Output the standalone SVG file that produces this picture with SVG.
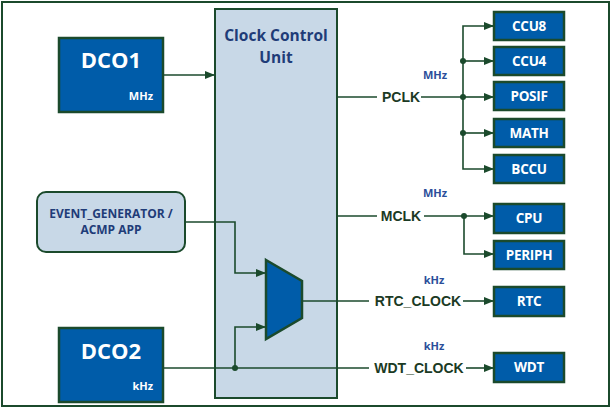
<svg xmlns="http://www.w3.org/2000/svg" width="613" height="409" viewBox="0 0 613 409">
<defs>
<marker id="ah" markerWidth="10" markerHeight="8" refX="10" refY="4" orient="auto" markerUnits="userSpaceOnUse">
<path d="M0,0 L10,4 L0,8 Z" fill="#1b4a2c"/>
</marker>
<style>
.blk{fill:#005ca9;stroke:#1b4a2c;stroke-width:2.5}
.lt{fill:#c8d8e7;stroke:#1b4a2c;stroke-width:2}
.ln{fill:none;stroke:#1b4a2c;stroke-width:1.6}
.dot{fill:#1b4a2c}
.wt{font-family:"Open Sans","Noto Sans",sans-serif;font-weight:bold;fill:#ffffff;text-anchor:middle}
.big{font-size:22px}
.sm{font-size:11px;font-weight:bold;font-family:"Open Sans","Noto Sans",sans-serif;fill:#ffffff;text-anchor:end}
.bx{font-size:13.5px;letter-spacing:-0.3px}
.unit{font-family:"Open Sans","Noto Sans",sans-serif;font-weight:bold;font-size:11px;fill:#2b4f9a;text-anchor:middle}
.sig{font-family:"Liberation Sans",Arial,sans-serif;font-weight:bold;font-size:14px;fill:#1b3a24;text-anchor:middle}
.ccu{font-family:"Open Sans","Noto Sans",sans-serif;font-weight:bold;font-size:15.5px;fill:#1f3c78;text-anchor:middle}
.ev{font-family:"Open Sans","Noto Sans",sans-serif;font-weight:bold;font-size:12px;fill:#1f3c78;text-anchor:middle}
</style>
</defs>
<rect x="2" y="2" width="607" height="404" fill="#ffffff" stroke="#1b4a2c" stroke-width="2"/>

<g id="ccu">
<rect class="lt" x="215" y="9" width="122" height="389"/>
<text class="ccu" x="276" y="41">Clock Control</text>
<text class="ccu" x="276" y="63">Unit</text>
</g>

<g id="dco1">
<rect class="blk" x="59" y="38" width="104" height="74"/>
<text class="wt big" x="111" y="68">DCO1</text>
<text class="sm" x="153" y="100">MHz</text>
</g>

<g id="dco2">
<rect class="blk" x="59" y="328" width="104" height="74"/>
<text class="wt big" x="111" y="359">DCO2</text>
<text class="sm" x="153" y="390">kHz</text>
</g>

<g id="event">
<rect class="lt" x="37" y="192" width="148" height="60" rx="9"/>
<text class="ev" x="111" y="218">EVENT_GENERATOR /</text>
<text class="ev" x="111" y="234">ACMP APP</text>
</g>

<g id="mux">
<polygon points="266,260 302,281 302,318 266,339" fill="#005ca9" stroke="#1b4a2c" stroke-width="2.5"/>
</g>

<g id="ccu8"><rect class="blk" x="494" y="12" width="70" height="28"/><text class="wt bx" x="529" y="31">CCU8</text></g>
<g id="ccu4"><rect class="blk" x="494" y="47" width="70" height="28"/><text class="wt bx" x="529" y="66">CCU4</text></g>
<g id="posif"><rect class="blk" x="494" y="82" width="70" height="28"/><text class="wt bx" x="529" y="101">POSIF</text></g>
<g id="math"><rect class="blk" x="494" y="119" width="70" height="28"/><text class="wt bx" x="529" y="138">MATH</text></g>
<g id="bccu"><rect class="blk" x="494" y="155" width="70" height="28"/><text class="wt bx" x="529" y="174">BCCU</text></g>
<g id="cpu"><rect class="blk" x="494" y="204" width="70" height="29"/><text class="wt bx" x="529" y="223">CPU</text></g>
<g id="periph"><rect class="blk" x="494" y="241" width="70" height="28"/><text class="wt bx" x="529" y="260">PERIPH</text></g>
<g id="rtc"><rect class="blk" x="494" y="287" width="70" height="29"/><text class="wt bx" x="529" y="306">RTC</text></g>
<g id="wdt"><rect class="blk" x="494" y="353" width="70" height="29"/><text class="wt bx" x="529" y="372">WDT</text></g>

<g id="connectors">
<line class="ln" x1="163" y1="75" x2="215" y2="75" marker-end="url(#ah)"/>
<polyline class="ln" points="185,222 235,222 235,273 266,273" marker-end="url(#ah)"/>
<line class="ln" x1="163" y1="368" x2="369" y2="368"/>
<polyline class="ln" points="235,368 235,327 266,327" marker-end="url(#ah)"/>
<circle class="dot" cx="235" cy="368" r="3"/>

<line class="ln" x1="337" y1="97" x2="377" y2="97"/>
<line class="ln" x1="421" y1="97" x2="463" y2="97"/>
<polyline class="ln" points="494,26 463,26 463,169 494,169" marker-end="url(#ah)"/>
<line class="ln" x1="485" y1="26" x2="494" y2="26" marker-end="url(#ah)"/>
<line class="ln" x1="463" y1="61" x2="494" y2="61" marker-end="url(#ah)"/>
<line class="ln" x1="463" y1="97" x2="494" y2="97" marker-end="url(#ah)"/>
<line class="ln" x1="463" y1="133" x2="494" y2="133" marker-end="url(#ah)"/>
<circle class="dot" cx="463" cy="61" r="3"/>
<circle class="dot" cx="463" cy="97" r="3"/>
<circle class="dot" cx="463" cy="133" r="3"/>

<line class="ln" x1="337" y1="216" x2="377" y2="216"/>
<line class="ln" x1="424" y1="216" x2="494" y2="216" marker-end="url(#ah)"/>
<polyline class="ln" points="464,216 464,254 494,254" marker-end="url(#ah)"/>
<circle class="dot" cx="464" cy="216" r="3"/>

<line class="ln" x1="302" y1="301" x2="369" y2="301"/>
<line class="ln" x1="463" y1="301" x2="494" y2="301" marker-end="url(#ah)"/>
<line class="ln" x1="466" y1="368" x2="494" y2="368" marker-end="url(#ah)"/>
</g>

<g id="labels">
<text class="unit" x="435" y="79">MHz</text>
<text class="sig" x="401" y="102">PCLK</text>
<text class="unit" x="435" y="197">MHz</text>
<text class="sig" x="401" y="221">MCLK</text>
<text class="unit" x="434" y="284">kHz</text>
<text class="sig" x="418" y="306">RTC_CLOCK</text>
<text class="unit" x="434" y="350">kHz</text>
<text class="sig" x="419" y="373">WDT_CLOCK</text>
</g>
</svg>
